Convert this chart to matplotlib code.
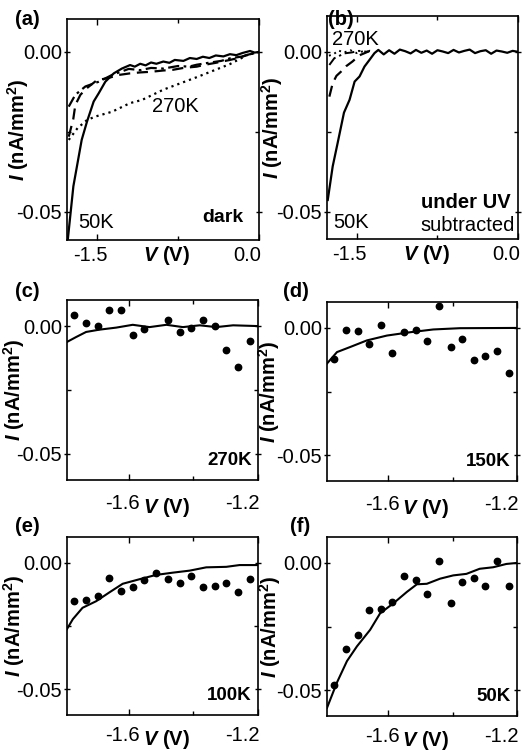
import matplotlib
matplotlib.use("Agg")
import matplotlib.pyplot as plt
from matplotlib.ticker import FixedLocator, FixedFormatter
from matplotlib.transforms import ScaledTranslation

plt.rcParams['font.family'] = ['Liberation Sans', 'DejaVu Sans']
plt.rcParams['mathtext.fontset'] = 'custom'
plt.rcParams['mathtext.rm'] = 'Liberation Sans:bold'
plt.rcParams['mathtext.bf'] = 'Liberation Sans:bold'
plt.rcParams['mathtext.it'] = 'Liberation Sans:bold:italic'
plt.rcParams['axes.unicode_minus'] = False

# ---------------- data: panel (a) dark ----------------
a50_v = [-1.771, -1.719, -1.642, -1.593, -1.531, -1.484, -1.423, -1.345, -1.27, -1.194, -1.15, -1.10,
         -1.05, -1.00, -0.95, -0.886, -0.83, -0.78, -0.70, -0.64, -0.577, -0.52, -0.46, -0.40, -0.33,
         -0.269, -0.21, -0.15, -0.083, -0.04, 0.0]
a50_i = [-0.0588, -0.042, -0.0275, -0.0218, -0.0155, -0.0129, -0.0093, -0.0067, -0.0052, -0.0041, -0.0046, -0.0037,
         -0.0042, -0.0033, -0.0037, -0.0030, -0.0034, -0.0025, -0.0028, -0.0019, -0.0022, -0.0015, -0.0019, -0.0011, -0.0014,
         -0.0007, -0.0010, -0.0003, 0.0003, -0.0002, 0.0]
a100_v = [-1.762, -1.72, -1.701, -1.654, -1.593, -1.50, -1.40, -1.30, -1.194, -1.10, -1.00, -0.886, -0.80,
          -0.70, -0.577, -0.50, -0.40, -0.269, -0.18, -0.12, 0.0]
a100_i = [-0.0265, -0.021, -0.0166, -0.0134, -0.0113, -0.0088, -0.0082, -0.0072, -0.0067, -0.0064, -0.0062, -0.0058, -0.0056,
          -0.0050, -0.0046, -0.0040, -0.0034, -0.0025, -0.0018, -0.0010, 0.0]
a150_v = [-1.762, -1.701, -1.608, -1.484, -1.361, -1.206, -1.10, -1.00, -0.886, -0.75, -0.65, -0.577, -0.45,
          -0.35, -0.269, -0.15, -0.07, 0.0]
a150_i = [-0.0171, -0.0134, -0.0108, -0.0093, -0.0072, -0.0053, -0.0057, -0.0050, -0.0052, -0.0044, -0.0046, -0.0040, -0.0033,
          -0.0028, -0.0020, -0.0014, -0.0006, 0.0]
a270_v = [-1.762, -1.68, -1.593, -1.516, -1.361, -1.194, -1.083, -0.886, -0.577, -0.269, -0.11, 0.0]
a270_i = [-0.0275, -0.0238, -0.0213, -0.0202, -0.0187, -0.016, -0.015, -0.0118, -0.0079, -0.0038, -0.0010, 0.0]

# ---------------- data: panel (b) under UV, subtracted ----------------
b50_v = [-1.771, -1.725, -1.679, -1.62, -1.568, -1.521, -1.475, -1.429, -1.382, -1.336, -1.30, -1.25, -1.20,
         -1.15, -1.10, -1.05, -1.00, -0.95, -0.90, -0.85, -0.80, -0.75, -0.70, -0.65, -0.60, -0.55, -0.50,
         -0.45, -0.40, -0.35, -0.30, -0.25, -0.20, -0.15, -0.10, -0.05, 0.0]
b50_i = [-0.0463, -0.0358, -0.0285, -0.019, -0.015, -0.0093, -0.0077, -0.0046, -0.0025, -0.0004, 0.0006, -0.0008, 0.0005,
         -0.0006, 0.0007, 0.0002, -0.0005, 0.0006, -0.0003, 0.0004, -0.0006, 0.0005, 0.0001, -0.0004, 0.0006, -0.0002, 0.0003,
         0.0007, -0.0004, 0.0002, 0.0005, -0.0006, 0.0004, 0.0001, -0.0003, 0.0003, 0.0]
b100_v = [-1.756, -1.725, -1.69, -1.648, -1.60, -1.54, -1.50, -1.463, -1.42, -1.38, -1.33]
b100_i = [-0.014, -0.0098, -0.0075, -0.0062, -0.0045, -0.003, -0.0018, -0.0009, -0.0003, 0.0003, 0.0]
b150_v = [-1.756, -1.71, -1.66, -1.62, -1.55, -1.48, -1.40]
b150_i = [-0.0041, -0.002, -0.0012, -0.0005, -0.0002, 0.0003, 0.0]
b270_v = [-1.76, -1.72, -1.67, -1.62, -1.56, -1.50, -1.44, -1.38]
b270_i = [-0.0012, -0.0008, 0.0004, -0.0002, 0.0005, -0.0004, 0.0002, 0.0]

# ---------------- data: panels (c)-(f), dots = measured, line = fit ----------------
dot_v = [-1.767, -1.731, -1.695, -1.659, -1.623, -1.587, -1.551, -1.515, -1.478, -1.442, -1.406,
         -1.370, -1.334, -1.298, -1.262, -1.226]

c_dot_v = [-1.767, -1.731, -1.695, -1.659, -1.623, -1.587, -1.551, -1.478, -1.442, -1.406,
           -1.370, -1.334, -1.298, -1.262, -1.226]
c_dot_i = [0.0045, 0.0013, 0.0, 0.0063, 0.0063, -0.0034, -0.001, 0.0022, -0.0023, -0.0009,
           0.0022, 0.0, -0.0095, -0.0159, -0.0058]
c_fit_v = [-1.79, -1.762, -1.731, -1.69, -1.638, -1.587, -1.535, -1.483, -1.432, -1.38, -1.329, -1.277, -1.2]
c_fit_i = [-0.0062, -0.0043, -0.0023, -0.0014, -0.0006, 0.0005, -0.0004, 0.0005, -0.0004, 0.0003, -0.0004, 0.0003, 0.0]

d_dot_i = [-0.0123, -0.001, -0.0013, -0.0062, 0.0013, -0.010, -0.0017, -0.001, -0.0053, 0.0087,
           -0.0074, -0.0043, -0.0127, -0.011, -0.0089, -0.0179]
d_fit_v = [-1.79, -1.759, -1.718, -1.666, -1.604, -1.532, -1.46, -1.377, -1.2]
d_fit_i = [-0.014, -0.0095, -0.0075, -0.0049, -0.003, -0.0017, -0.0006, -0.0001, 0.0]

e_dot_i = [-0.0152, -0.0149, -0.0132, -0.0061, -0.011, -0.0094, -0.007, -0.0042, -0.0064, -0.0081,
           -0.0051, -0.0094, -0.0091, -0.0078, -0.0116, -0.0065]
e_fit_v = [-1.79, -1.772, -1.742, -1.70, -1.659, -1.618, -1.566, -1.515, -1.463, -1.411, -1.36,
           -1.298, -1.257, -1.2]
e_fit_i = [-0.0262, -0.0223, -0.0178, -0.0152, -0.0117, -0.0083, -0.0065, -0.0048, -0.0039, -0.0031,
           -0.0018, -0.0016, -0.0009, -0.0009]

f_dot_i = [-0.0479, -0.0337, -0.0285, -0.0185, -0.0183, -0.0154, -0.0053, -0.0069, -0.0123, 0.0009,
           -0.0157, -0.0074, -0.006, -0.0091, 0.0009, -0.0091]
f_fit_v = [-1.79, -1.759, -1.728, -1.697, -1.656, -1.625, -1.584, -1.542, -1.511, -1.48, -1.439,
           -1.398, -1.357, -1.316, -1.274, -1.233, -1.2]
f_fit_i = [-0.057, -0.047, -0.0386, -0.0328, -0.0263, -0.0198, -0.0159, -0.0114, -0.0084, -0.0082,
           -0.0062, -0.0049, -0.0043, -0.0023, -0.0017, -0.0004, 0.0]

# tick labels
top_xticks = [-1.5, 0.0]
top_xticklabels = ['-1.5', '0.0']
top_xminor = [-0.75]
low_xticks = [-1.6, -1.2]
low_xticklabels = ['-1.6', '-1.2']
low_xminor = [-1.4]
yticks = [-0.05, 0.0]
yticklabels = ['-0.05', '0.00']
yminor = [-0.025]

FS = 14.5
W, H = 527, 751
fig = plt.figure(figsize=(W / 100, H / 100), dpi=100)


def px_axes(l, t, r, b):
    return fig.add_axes([l / W, 1 - b / H, (r - l) / W, (b - t) / H])


def style(ax, xt, xtl, xm, xlim, ylim, xpad, xlab_y, ylab_x, first_shift):
    ax.set_xlim(*xlim)
    ax.set_ylim(*ylim)
    ax.xaxis.set_major_locator(FixedLocator(xt))
    ax.xaxis.set_major_formatter(FixedFormatter(xtl))
    ax.xaxis.set_minor_locator(FixedLocator(xm))
    ax.yaxis.set_major_locator(FixedLocator(yticks))
    ax.yaxis.set_major_formatter(FixedFormatter(yticklabels))
    ax.yaxis.set_minor_locator(FixedLocator(yminor))
    for s in ax.spines.values():
        s.set_linewidth(1.2)
    ax.tick_params(which='both', direction='in', top=True, right=True, width=1.0)
    ax.tick_params(which='major', length=4)
    ax.tick_params(which='minor', length=3)
    ax.tick_params(axis='y', which='major', direction='inout', length=5, pad=1, labelsize=FS)
    ax.tick_params(axis='x', which='major', pad=xpad, labelsize=FS)
    ax.set_xlabel(r'$\it{V}$ (V)', fontsize=FS, fontweight='bold')
    ax.xaxis.set_label_coords(0.52, xlab_y)
    ax.set_ylabel(r'$\it{I}$ (nA/mm$^{2}$)', fontsize=FS, fontweight='bold')
    ax.yaxis.set_label_coords(ylab_x, 0.5)
    ticks = ax.xaxis.get_major_ticks()
    ticks[0].label1.set_transform(ticks[0].label1.get_transform()
                                  + ScaledTranslation(-first_shift / 100, 0, fig.dpi_scale_trans))
    ticks[-1].label1.set_horizontalalignment('right')
    ticks[-1].label1.set_transform(ticks[-1].label1.get_transform()
                                   + ScaledTranslation(2 / 100, 0, fig.dpi_scale_trans))


# (a)
ax = px_axes(67, 19, 259, 240)
ax.plot(a270_v, a270_i, color='black', lw=1.6, ls=(0, (1, 1.8)))
ax.plot(a150_v, a150_i, color='black', lw=1.6, ls=(0, (5, 2, 1.2, 2)))
ax.plot(a100_v, a100_i, color='black', lw=1.6, ls=(0, (5, 3)))
ax.plot(a50_v, a50_i, color='black', lw=1.6, ls='-')
style(ax, top_xticks, top_xticklabels, top_xminor, (-1.778, 0.0), (-0.0588, 0.0103), 4, -0.02, -0.19, 7)
ax.text(0.5625, 0.606, '270K', transform=ax.transAxes, ha='center', va='center', fontsize=FS)
ax.text(0.057, 0.081, '50K', transform=ax.transAxes, ha='left', va='center', fontsize=FS)
ax.text(0.917, 0.104, 'dark', transform=ax.transAxes, ha='right', va='center', fontsize=FS - 0.5,
        fontweight='bold')

# (b)
ax = px_axes(327, 16, 518, 239)
ax.plot(b270_v, b270_i, color='black', lw=1.4, ls=(0, (1, 2)))
ax.plot(b150_v, b150_i, color='black', lw=1.4, ls=(0, (5, 2, 1.2, 2)))
ax.plot(b100_v, b100_i, color='black', lw=1.6, ls=(0, (5, 3)))
ax.plot(b50_v, b50_i, color='black', lw=1.6, ls='-')
style(ax, top_xticks, top_xticklabels, top_xminor, (-1.778, 0.0), (-0.0585, 0.0112), 4, -0.02, -0.22, 7)
ax.text(0.026, 0.895, '270K', transform=ax.transAxes, ha='left', va='center', fontsize=FS)
ax.text(0.031, 0.076, '50K', transform=ax.transAxes, ha='left', va='center', fontsize=FS)
ax.text(0.963, 0.165, 'under UV', transform=ax.transAxes, ha='right', va='center', fontsize=FS,
        fontweight='bold')
ax.text(0.984, 0.06, 'subtracted', transform=ax.transAxes, ha='right', va='center', fontsize=FS)

# (c)-(f)
lower = [
    ((67, 300, 258, 480), c_dot_v, c_dot_i, c_fit_v, c_fit_i, '270K', 10, -0.09, -0.21),
    ((327, 302, 517, 481), dot_v, d_dot_i, d_fit_v, d_fit_i, '150K', 10, -0.09, -0.235),
    ((67, 537, 258, 715), dot_v, e_dot_i, e_fit_v, e_fit_i, '100K', 8, -0.072, -0.21),
    ((327, 537, 517, 716), dot_v, f_dot_i, f_fit_v, f_fit_i, '50K', 8, -0.072, -0.23),
]
for box, dv, di, fv, fi, lab, xpad, xly, ylx in lower:
    ax = px_axes(*box)
    ax.plot(fv, fi, color='black', lw=1.5)
    ax.plot(dv, di, ls='none', marker='o', ms=4.6, color='black')
    style(ax, low_xticks, low_xticklabels, low_xminor, (-1.79, -1.2), (-0.0602, 0.0102), xpad, xly, ylx, 6)
    ax.text(0.968, 0.111, lab, transform=ax.transAxes, ha='right', va='center', fontsize=FS - 1,
            fontweight='bold')

# panel letters
for lab, x, y in [('(a)', 15, 10), ('(b)', 328, 10), ('(c)', 15, 282), ('(d)', 283, 282),
                  ('(e)', 15, 517), ('(f)', 290, 517)]:
    fig.text(x / W, 1 - y / H, lab, ha='left', va='top', fontsize=FS, fontweight='bold')

fig.savefig('out.png', dpi=100)
